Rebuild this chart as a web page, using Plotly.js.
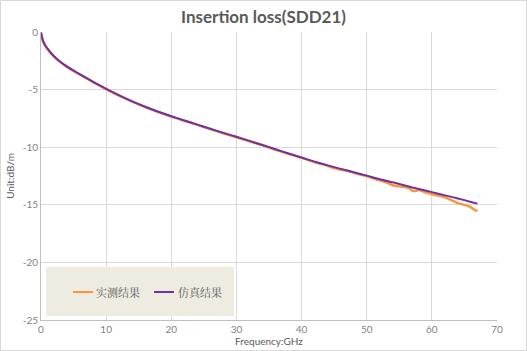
<!DOCTYPE html>
<html>
<head>
<meta charset="utf-8">
<script src="https://cdn.plot.ly/plotly-3.0.1.min.js"></script>
<style>html,body{margin:0;padding:0;background:#fff;}#chart{width:527px;height:351px;}</style>
</head>
<body>
<div id="chart"></div>
<script>
const seriesNames = ["实测结果", "仿真结果"];
const freqMeas = [0,0.1,0.3,0.6,1,1.5,2,3,4,5,6,7,8,9,10,12,14,16,18,20,22,24,26,28,30,32,34,36,38,40,42,43,44,45,46,47,48,49,50,51,52,53,54,55,56,56.5,57,57.5,58,58.5,59,60,61,62,63,64,65,65.5,66,66.5,67];
const lossMeas = [-0.05,-0.32,-0.78,-1.13,-1.48,-1.83,-2.13,-2.63,-3.03,-3.38,-3.71,-4.03,-4.35,-4.66,-4.96,-5.53,-6.05,-6.52,-6.95,-7.34,-7.7,-8.06,-8.43,-8.79,-9.13,-9.48,-9.84,-10.22,-10.58,-10.93,-11.3,-11.45,-11.62,-11.82,-11.95,-12.05,-12.22,-12.38,-12.5,-12.7,-12.88,-13.05,-13.3,-13.4,-13.48,-13.55,-13.78,-13.8,-13.72,-13.8,-13.92,-14.08,-14.2,-14.35,-14.6,-14.85,-15.0,-15.1,-15.22,-15.42,-15.55];
const freqSim = [0,0.1,0.3,0.6,1,1.5,2,3,4,5,6,7,8,9,10,12,14,16,18,20,22,24,26,28,30,32,34,36,38,40,42,44,46,48,50,52,54,56,58,60,62,64,66,67];
const lossSim = [-0.05,-0.3,-0.75,-1.1,-1.45,-1.8,-2.1,-2.6,-3.0,-3.35,-3.68,-4.0,-4.32,-4.63,-4.93,-5.5,-6.02,-6.49,-6.92,-7.31,-7.68,-8.04,-8.4,-8.76,-9.1,-9.45,-9.81,-10.18,-10.55,-10.9,-11.25,-11.58,-11.88,-12.18,-12.47,-12.78,-13.05,-13.35,-13.63,-13.9,-14.18,-14.45,-14.75,-14.9];
const xTicks = [0,10,20,30,40,50,60,70];
const yTicks = [0,-5,-10,-15,-20,-25];

const colors = ["#F7963C", "#7030A0"];
const L = 41, R = 497, T = 32, B = 320, W = 527, H = 351;
const px = v => (v - L) / (R - L);
const py = v => (B - v) / (B - T);

const traces = [
  {x: freqMeas, y: lossMeas, name: seriesNames[0], type: 'scatter', mode: 'lines',
   line: {color: colors[0], width: 2.5, shape: 'spline', smoothing: 0.6}, showlegend: false, hoverinfo: 'skip'},
  {x: freqSim, y: lossSim, name: seriesNames[1], type: 'scatter', mode: 'lines',
   line: {color: colors[1], width: 2, shape: 'spline', smoothing: 0.6}, showlegend: false, hoverinfo: 'skip'}
];

const gray = "#595959";
const layout = {
  width: W, height: H,
  margin: {l: L, r: W - R, t: T, b: H - B, pad: 0},
  paper_bgcolor: '#fff', plot_bgcolor: '#fff',
  font: {family: 'Lato, "Noto Sans", sans-serif', size: 10, color: gray},
  title: {text: '<b>Insertion loss(SDD21)</b>', x: 0.5, xanchor: 'center', y: 1 - 17/H, yanchor: 'middle',
          font: {family: 'Lato, "Noto Sans", sans-serif', size: 17, color: gray}},
  xaxis: {range: [0, 70], tickvals: xTicks, ticktext: xTicks.map(String), showgrid: true, gridcolor: '#d9d9d9', gridwidth: 1,
          showline: true, linecolor: '#bfbfbf', linewidth: 1, zeroline: false, ticks: '',
          tickfont: {size: 10, color: '#7f7f7f'},
          title: {text: 'Frequency:GHz', font: {size: 10, color: gray}, standoff: 0}},
  yaxis: {range: [-25, 0], tickvals: yTicks, ticktext: yTicks.map(String), showgrid: true, gridcolor: '#d9d9d9', gridwidth: 1,
          showline: true, linecolor: '#bfbfbf', linewidth: 1, zeroline: false, ticks: '',
          tickfont: {size: 10, color: '#7f7f7f'},
          title: {text: 'Unit:dB/m', font: {size: 10, color: gray}, standoff: 6}},
  showlegend: false,
  shapes: [
    {type: 'rect', xref: 'paper', yref: 'paper', x0: px(0.5), x1: px(W - 0.5), y0: py(H - 0.5), y1: py(0.5),
     line: {color: '#d9d9d9', width: 1}, fillcolor: 'rgba(0,0,0,0)', layer: 'below'},
    {type: 'rect', xref: 'paper', yref: 'paper', x0: px(46), x1: px(234), y0: py(316), y1: py(267),
     line: {width: 0}, fillcolor: '#EEEBE0', layer: 'above'},
    {type: 'line', xref: 'paper', yref: 'paper', x0: px(73), x1: px(93), y0: py(292), y1: py(292),
     line: {color: colors[0], width: 2}, layer: 'above'},
    {type: 'line', xref: 'paper', yref: 'paper', x0: px(154), x1: px(174), y0: py(292), y1: py(292),
     line: {color: colors[1], width: 2}, layer: 'above'}
  ],
  annotations: [
    {xref: 'paper', yref: 'paper', x: px(94), y: py(292), xanchor: 'left', yanchor: 'middle', showarrow: false,
     text: seriesNames[0], font: {family: '"Noto Serif CJK SC", "Noto Sans CJK SC", serif', size: 11, color: gray}},
    {xref: 'paper', yref: 'paper', x: px(176), y: py(292), xanchor: 'left', yanchor: 'middle', showarrow: false,
     text: seriesNames[1], font: {family: '"Noto Serif CJK SC", "Noto Sans CJK SC", serif', size: 11, color: gray}}
  ]
};

Plotly.newPlot('chart', traces, layout, {displayModeBar: false, staticPlot: true});
</script>
</body>
</html>
